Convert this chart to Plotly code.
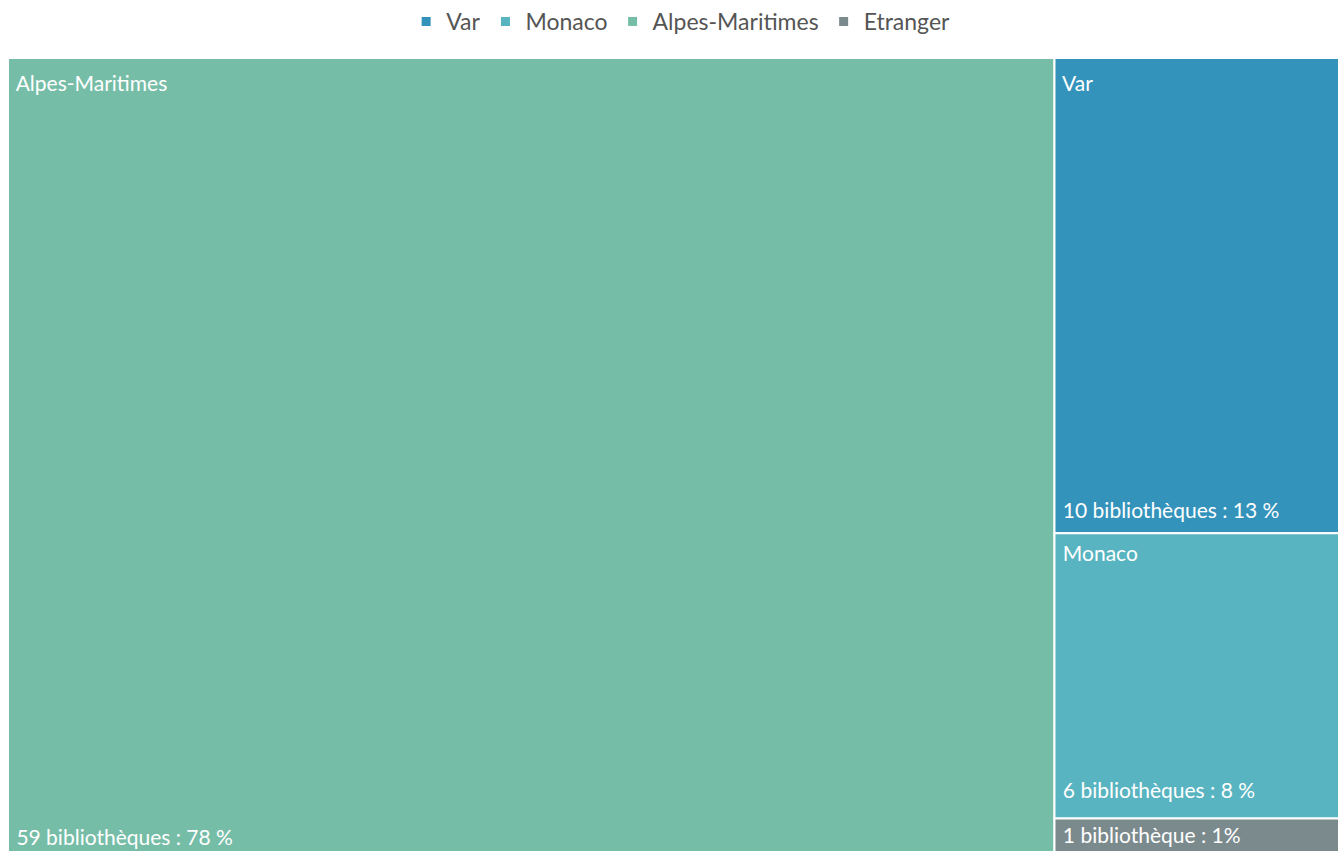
import plotly.graph_objects as go

labels = ["Alpes-Maritimes", "Var", "Monaco", "Etranger"]
values = [59, 10, 6, 1]
value_texts = ["59 bibliothèques : 78 %", "10 bibliothèques : 13 %",
               "6 bibliothèques : 8 %", "1 bibliothèque : 1%"]
colors = ["#76BDA7", "#3493BB", "#58B4C0", "#7B8A8D"]
legend_order = ["Var", "Monaco", "Alpes-Maritimes", "Etranger"]

FONT = "Lato"
NB = "\u00a0"
parents = [""] * len(labels)

top_texts = [NB + t for t in labels[:-1]] + [NB + value_texts[-1]]
bottom_texts = [NB + t for t in value_texts[:-1]] + [""]

common = dict(
    labels=labels, parents=parents, values=values,
    sort=True, tiling=dict(packing="squarify", pad=0),
    pathbar=dict(visible=False), hoverinfo="skip",
    domain=dict(x=[0, 1], y=[0, 1]),
)

fig = go.Figure()
# coloured tiles
fig.add_trace(go.Treemap(
    texttemplate="", textinfo="none",
    marker=dict(colors=colors, line=dict(color="white", width=2),
                pad=dict(t=0, l=0, r=0, b=0)),
    **common,
))
# top-left labels
fig.add_trace(go.Treemap(
    text=top_texts, texttemplate="%{text}", textposition="top left",
    marker=dict(colors=["rgba(0,0,0,0)"] * len(labels), line=dict(width=0),
                pad=dict(t=9, l=0, r=0, b=0)),
    textfont=dict(family=FONT, size=21, color="white"),
    **common,
))
# bottom-left values
fig.add_trace(go.Treemap(
    text=bottom_texts, texttemplate="%{text}", textposition="bottom left",
    marker=dict(colors=["rgba(0,0,0,0)"] * len(labels), line=dict(width=0),
                pad=dict(t=0, l=0, r=0, b=14)),
    textfont=dict(family=FONT, size=21, color="white"),
    **common,
))

for name in legend_order:
    c = colors[labels.index(name)]
    fig.add_trace(go.Scatter(
        x=[None], y=[None], mode="markers", name=name,
        marker=dict(symbol="square", size=9, color=c),
        showlegend=True,
    ))

# the original chart is a crop: the treemap runs past the right and bottom edges
fig.update_layout(
    width=1356, height=866,
    margin=dict(l=8, r=0, t=58, b=0, autoexpand=False),
    paper_bgcolor="white", plot_bgcolor="white",
    xaxis=dict(visible=False), yaxis=dict(visible=False),
    legend=dict(orientation="h", x=0.499, xanchor="center",
                yref="container", y=1.0, yanchor="top",
                font=dict(family=FONT, size=23, color="#555555"),
                itemwidth=30, tracegroupgap=0),
    font=dict(family=FONT),
)

post = (
    "document.body.style.margin='0';"
    "document.body.style.overflow='hidden';"
    "var gd=document.getElementById('{plot_id}');"
    "var p=gd.parentElement;"
    "p.style.width='1338px';p.style.height='851px';p.style.overflow='hidden';"
)

fig.write_html("out.html", post_script=post,
               config={"displayModeBar": False})
